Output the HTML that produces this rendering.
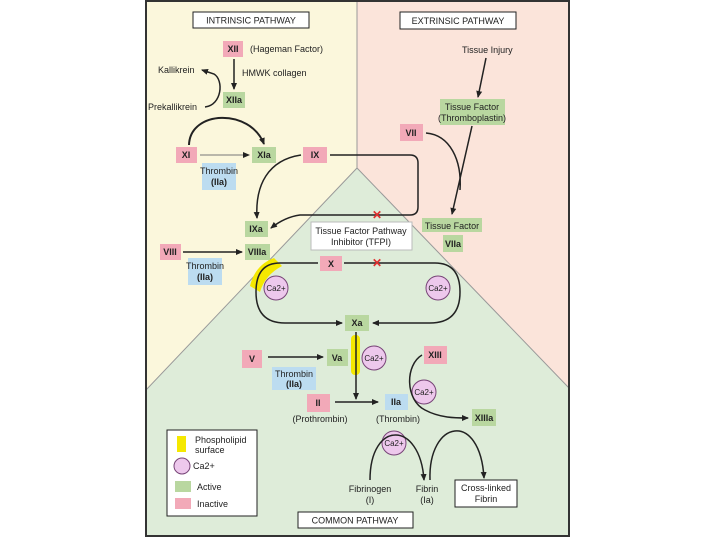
<!DOCTYPE html>
<html><head><style>
html,body{margin:0;padding:0;background:#fff;}
svg{display:block;font-family:"Liberation Sans",sans-serif;}
</style></head><body>
<svg width="720" height="540" viewBox="0 0 720 540" xmlns="http://www.w3.org/2000/svg">
<defs>
<marker id="a" markerWidth="8" markerHeight="8" refX="6" refY="4" orient="auto" markerUnits="userSpaceOnUse"><path d="M0,1 L7,4 L0,7 Z" fill="#222"/></marker>
</defs>
<rect x="146" y="1" width="211" height="535" fill="#fbf7dc"/>
<rect x="357" y="1" width="212" height="535" fill="#fbe4da"/>
<polygon points="357,168 569,388 569,536 146,536 146,390" fill="#deecd9"/>
<polyline points="146,390 357,168 569,388" fill="none" stroke="#999" stroke-width="1"/>
<line x1="357" y1="1" x2="357" y2="168" stroke="#999"/>
<rect x="146" y="1" width="423" height="535" fill="none" stroke="#333" stroke-width="2"/>

<g font-size="9" fill="#222">
<rect x="193" y="12" width="116" height="16" fill="#fff" stroke="#222"/>
<text x="251" y="23.5" text-anchor="middle">INTRINSIC PATHWAY</text>
<rect x="400" y="12" width="116" height="17" fill="#fff" stroke="#222"/>
<text x="458" y="24" text-anchor="middle">EXTRINSIC PATHWAY</text>
<rect x="298" y="512" width="115" height="16" fill="#fff" stroke="#222"/>
<text x="355" y="523.5" text-anchor="middle">COMMON PATHWAY</text>

<!-- intrinsic -->
<rect x="223" y="41" width="20" height="16" fill="#f2a9b8"/><text x="233" y="52" text-anchor="middle" font-weight="bold">XII</text>
<text x="250" y="52">(Hageman Factor)</text>
<line x1="234" y1="59" x2="234" y2="89" stroke="#222" stroke-width="1.5" marker-end="url(#a)"/>
<text x="242" y="76">HMWK collagen</text>
<rect x="223" y="92" width="22" height="16" fill="#b9d7a0"/><text x="234" y="103" text-anchor="middle" font-weight="bold">XIIa</text>
<text x="158" y="73">Kallikrein</text>
<text x="148" y="110">Prekallikrein</text>
<path d="M205,107 C222,105 224,80 214,74 L202,70" fill="none" stroke="#222" stroke-width="1.5" marker-end="url(#a)"/>
<path d="M189,145 C190,110 250,108 264,144" fill="none" stroke="#222" stroke-width="2" marker-end="url(#a)"/>
<rect x="176" y="147" width="21" height="16" fill="#f2a9b8"/><text x="186" y="158" text-anchor="middle" font-weight="bold">XI</text>
<line x1="200" y1="155" x2="249" y2="155" stroke="#777" stroke-width="1" marker-end="url(#a)"/>
<rect x="252" y="147" width="24" height="16" fill="#b9d7a0"/><text x="264" y="158" text-anchor="middle" font-weight="bold">XIa</text>
<rect x="202" y="163" width="34" height="27" fill="#bcdcf0"/><text x="219" y="174" text-anchor="middle">Thrombin</text><text x="219" y="185" text-anchor="middle" font-weight="bold">(IIa)</text>
<rect x="303" y="147" width="24" height="16" fill="#f2a9b8"/><text x="315" y="158" text-anchor="middle" font-weight="bold">IX</text>
<path d="M330,155 L410,155 Q418,155 418,163 L418,207 Q418,215 410,215 L300,215 Q285,217 271,228" fill="none" stroke="#222" stroke-width="1.5" marker-end="url(#a)"/>
<path d="M301,155 C268,160 255,185 257,218" fill="none" stroke="#222" stroke-width="1.5" marker-end="url(#a)"/>
<text x="377" y="219" text-anchor="middle" fill="#e03030" font-weight="bold" font-size="12">✕</text>
<rect x="245" y="221" width="23" height="16" fill="#b9d7a0"/><text x="256" y="232" text-anchor="middle" font-weight="bold">IXa</text>
<rect x="160" y="244" width="21" height="16" fill="#f2a9b8"/><text x="170" y="255" text-anchor="middle" font-weight="bold">VIII</text>
<line x1="183" y1="252" x2="242" y2="252" stroke="#222" stroke-width="1.5" marker-end="url(#a)"/>
<rect x="245" y="244" width="25" height="16" fill="#b9d7a0"/><text x="257" y="255" text-anchor="middle" font-weight="bold">VIIIa</text>
<rect x="188" y="258" width="34" height="27" fill="#bcdcf0"/><text x="205" y="269" text-anchor="middle">Thrombin</text><text x="205" y="280" text-anchor="middle" font-weight="bold">(IIa)</text>

<!-- extrinsic -->
<text x="462" y="53">Tissue Injury</text>
<line x1="486" y1="58" x2="478" y2="97" stroke="#222" stroke-width="1.5" marker-end="url(#a)"/>
<rect x="440" y="99" width="65" height="26" fill="#b9d7a0"/><text x="472" y="110" text-anchor="middle">Tissue Factor</text><text x="472" y="121" text-anchor="middle">(Thromboplastin)</text>
<rect x="400" y="124" width="23" height="17" fill="#f2a9b8"/><text x="411" y="136" text-anchor="middle" font-weight="bold">VII</text>
<path d="M426,133 C450,135 462,160 460,190" fill="none" stroke="#222" stroke-width="1.5"/>
<line x1="472" y1="126" x2="452" y2="214" stroke="#222" stroke-width="1.5" marker-end="url(#a)"/>
<rect x="422" y="218" width="60" height="14" fill="#b9d7a0"/><text x="452" y="229" text-anchor="middle">Tissue Factor</text>
<rect x="443" y="235" width="20" height="17" fill="#b9d7a0"/><text x="453" y="247" text-anchor="middle" font-weight="bold">VIIa</text>

<!-- common -->
<rect x="311" y="222" width="101" height="28" fill="#fff" stroke="#bbb"/><text x="361" y="234" text-anchor="middle">Tissue Factor Pathway</text><text x="361" y="245" text-anchor="middle">Inhibitor (TFPI)</text>
<path d="M250,286 Q255,265 274,258 L282,266 Q265,275 260,292 Z" fill="#f5e800"/>
<rect x="320" y="256" width="22" height="15" fill="#f2a9b8"/><text x="331" y="267" text-anchor="middle" font-weight="bold">X</text>
<path d="M318,263 L280,263 Q256,263 256,292 Q256,323 285,323 L342,323" fill="none" stroke="#222" stroke-width="1.5" marker-end="url(#a)"/>
<path d="M344,263 L435,263 Q460,263 460,292 Q460,323 430,323 L373,323" fill="none" stroke="#222" stroke-width="1.5" marker-end="url(#a)"/>
<text x="377" y="267" text-anchor="middle" fill="#e03030" font-weight="bold" font-size="12">✕</text>
<g fill="#edc8ec" stroke="#774477">
<circle cx="276" cy="288" r="12"/><circle cx="438" cy="288" r="12"/><circle cx="374" cy="358" r="12"/><circle cx="424" cy="392" r="12"/><circle cx="394" cy="443" r="12"/>
</g>
<g font-size="8" text-anchor="middle">
<text x="276" y="291">Ca2+</text><text x="438" y="291">Ca2+</text><text x="374" y="361">Ca2+</text><text x="424" y="395">Ca2+</text><text x="394" y="446">Ca2+</text>
</g>
<rect x="345" y="315" width="24" height="16" fill="#b9d7a0"/><text x="357" y="326" text-anchor="middle" font-weight="bold">Xa</text>
<rect x="351" y="335" width="9" height="40" rx="4" fill="#f5e800"/>
<line x1="356" y1="332" x2="356" y2="399" stroke="#222" stroke-width="1.5" marker-end="url(#a)"/>
<rect x="242" y="350" width="20" height="18" fill="#f2a9b8"/><text x="252" y="362" text-anchor="middle" font-weight="bold">V</text>
<line x1="268" y1="357" x2="323" y2="357" stroke="#222" stroke-width="1.5" marker-end="url(#a)"/>
<rect x="327" y="349" width="21" height="17" fill="#b9d7a0"/><text x="337" y="361" text-anchor="middle" font-weight="bold">Va</text>
<rect x="272" y="367" width="44" height="23" fill="#bcdcf0"/><text x="294" y="377" text-anchor="middle">Thrombin</text><text x="294" y="387" text-anchor="middle" font-weight="bold">(IIa)</text>
<rect x="307" y="394" width="23" height="18" fill="#f2a9b8"/><text x="318" y="406" text-anchor="middle" font-weight="bold">II</text>
<line x1="335" y1="402" x2="378" y2="402" stroke="#222" stroke-width="1.5" marker-end="url(#a)"/>
<rect x="385" y="394" width="23" height="16" fill="#bcdcf0"/><text x="396" y="405" text-anchor="middle" font-weight="bold">IIa</text>
<text x="320" y="422" text-anchor="middle">(Prothrombin)</text>
<text x="398" y="422" text-anchor="middle">(Thrombin)</text>
<rect x="424" y="346" width="23" height="18" fill="#f2a9b8"/><text x="435" y="358" text-anchor="middle" font-weight="bold">XIII</text>
<path d="M422,355 C405,365 405,400 425,410 C440,418 455,418 468,418" fill="none" stroke="#222" stroke-width="1.5" marker-end="url(#a)"/>
<rect x="472" y="409" width="24" height="17" fill="#b9d7a0"/><text x="484" y="421" text-anchor="middle" font-weight="bold">XIIIa</text>
<path d="M370,480 C370,420 420,420 424,480" fill="none" stroke="#222" stroke-width="1.5" marker-end="url(#a)"/>
<path d="M430,480 C428,420 480,410 484,478" fill="none" stroke="#222" stroke-width="1.5" marker-end="url(#a)"/>
<text x="370" y="492" text-anchor="middle">Fibrinogen</text><text x="370" y="503" text-anchor="middle">(I)</text>
<text x="427" y="492" text-anchor="middle">Fibrin</text><text x="427" y="503" text-anchor="middle">(Ia)</text>
<rect x="455" y="480" width="62" height="27" fill="#fff" stroke="#222"/><text x="486" y="491" text-anchor="middle">Cross-linked</text><text x="486" y="502" text-anchor="middle">Fibrin</text>

<!-- legend -->
<rect x="167" y="430" width="90" height="86" fill="#fff" stroke="#222"/>
<rect x="177" y="436" width="9" height="16" fill="#f5e800"/>
<text x="195" y="443">Phospholipid</text><text x="195" y="453">surface</text>
<circle cx="182" cy="466" r="8" fill="#edc8ec" stroke="#774477"/><text x="193" y="469">Ca2+</text>
<rect x="175" y="481" width="16" height="11" fill="#b9d7a0"/><text x="197" y="490">Active</text>
<rect x="175" y="498" width="16" height="11" fill="#f2a9b8"/><text x="197" y="507">Inactive</text>
</g>
</svg>
</body></html>
